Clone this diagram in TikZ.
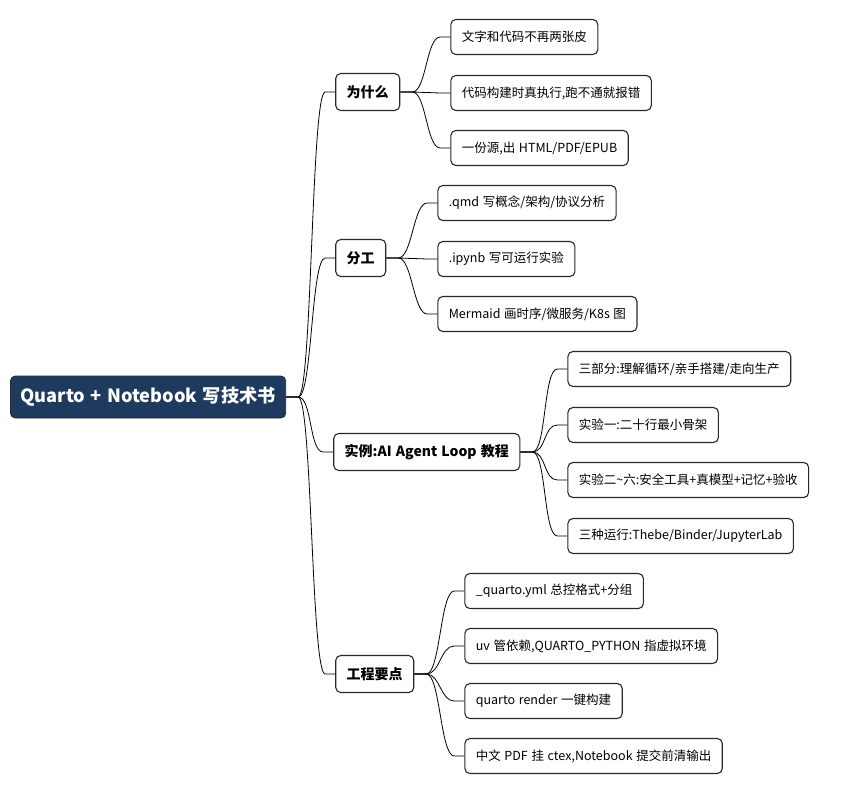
\documentclass[tikz,border=0pt]{standalone}
\usepackage{fontspec}
\setmainfont[WordSpace=1.3]{Noto Sans CJK SC}
\definecolor{rootblue}{RGB}{31, 58, 95}
\definecolor{boxline}{RGB}{40, 40, 40}
\usetikzlibrary{calc}
\tikzset{
	root/.style={rectangle, rounded corners=5pt, draw=boxline, fill=rootblue, line width=0.9pt, text=white, font=\fontsize{18.2}{22}\selectfont\bfseries, inner xsep=10pt, minimum height=42pt},
	topic/.style={rectangle, rounded corners=5pt, draw=boxline, fill=white, line width=1.1pt, font=\fontsize{14}{17}\selectfont\bfseries, inner xsep=11pt, minimum height=37pt},
	leaf/.style={rectangle, rounded corners=5pt, draw=boxline, fill=white, line width=1.1pt, font=\fontsize{12.5}{15}\selectfont, inner xsep=11pt, minimum height=35pt},
	link/.style={line width=0.8pt, draw=black},
}
\newcommand{\branch}[2]{%
	\draw[link] (#1.east) -- ++(12,0) .. controls +(14,0) and +(-14,0) .. ($(#2.west)+(-10,0)$) -- (#2.west);}

\begin{document}
\begin{tikzpicture}[x=1pt, y=-1pt]
		\useasboundingbox (0,0) rectangle (864,794);
		\node[root, anchor=west] (book) at (10,397) {Quarto + Notebook 写技术书};
		% first level
		\node[topic, anchor=west] (why) at ($(book.east)+(49,-305)$) {为什么};
		\node[topic, anchor=west] (roles) at ($(book.east)+(49,-139)$) {分工};
		\node[topic, anchor=west] (demo) at ($(book.east)+(47,55)$) {实例:AI Agent Loop 教程};
		\node[topic, anchor=west] (eng) at ($(book.east)+(49,277)$) {工程要点};
		% why
		\node[leaf, anchor=west] (why1) at ($(why.east)+(50,-55)$) {文字和代码不再两张皮};
		\node[leaf, anchor=west] (why2) at ($(why.east)+(50,1)$) {代码构建时真执行,跑不通就报错};
		\node[leaf, anchor=west] (why3) at ($(why.east)+(50,56)$) {一份源,出 HTML/PDF/EPUB};
		% roles
		\node[leaf, anchor=west] (roles1) at ($(roles.east)+(51,-55)$) {.qmd 写概念/架构/协议分析};
		\node[leaf, anchor=west] (roles2) at ($(roles.east)+(51,1)$) {.ipynb 写可运行实验};
		\node[leaf, anchor=west] (roles3) at ($(roles.east)+(51,56)$) {Mermaid 画时序/微服务/K8s 图};
		% demo
		\node[leaf, anchor=west] (demo1) at ($(demo.east)+(47,-83)$) {三部分:理解循环/亲手搭建/走向生产};
		\node[leaf, anchor=west] (demo2) at ($(demo.east)+(47,-27)$) {实验一:二十行最小骨架};
		\node[leaf, anchor=west] (demo3) at ($(demo.east)+(47,28)$) {实验二\textasciitilde 六:安全工具+真模型+记忆+验收};
		\node[leaf, anchor=west] (demo4) at ($(demo.east)+(47,84)$) {三种运行:Thebe/Binder/JupyterLab};
		% eng
		\node[leaf, anchor=west] (eng1) at ($(eng.east)+(50,-83)$) {\_quarto.yml 总控格式+分组};
		\node[leaf, anchor=west] (eng2) at ($(eng.east)+(50,-28)$) {uv 管依赖,QUARTO\_PYTHON 指虚拟环境};
		\node[leaf, anchor=west] (eng3) at ($(eng.east)+(50,27)$) {quarto render 一键构建};
		\node[leaf, anchor=west] (eng4) at ($(eng.east)+(50,82)$) {中文 PDF 挂 ctex,Notebook 提交前清输出};
		\foreach \a/\b in {book/why, book/roles, book/demo, book/eng,
			why/why1, why/why2, why/why3, roles/roles1, roles/roles2, roles/roles3,
			demo/demo1, demo/demo2, demo/demo3, demo/demo4,
			eng/eng1, eng/eng2, eng/eng3, eng/eng4}
			\branch{\a}{\b};
	\end{tikzpicture}
\end{document}
